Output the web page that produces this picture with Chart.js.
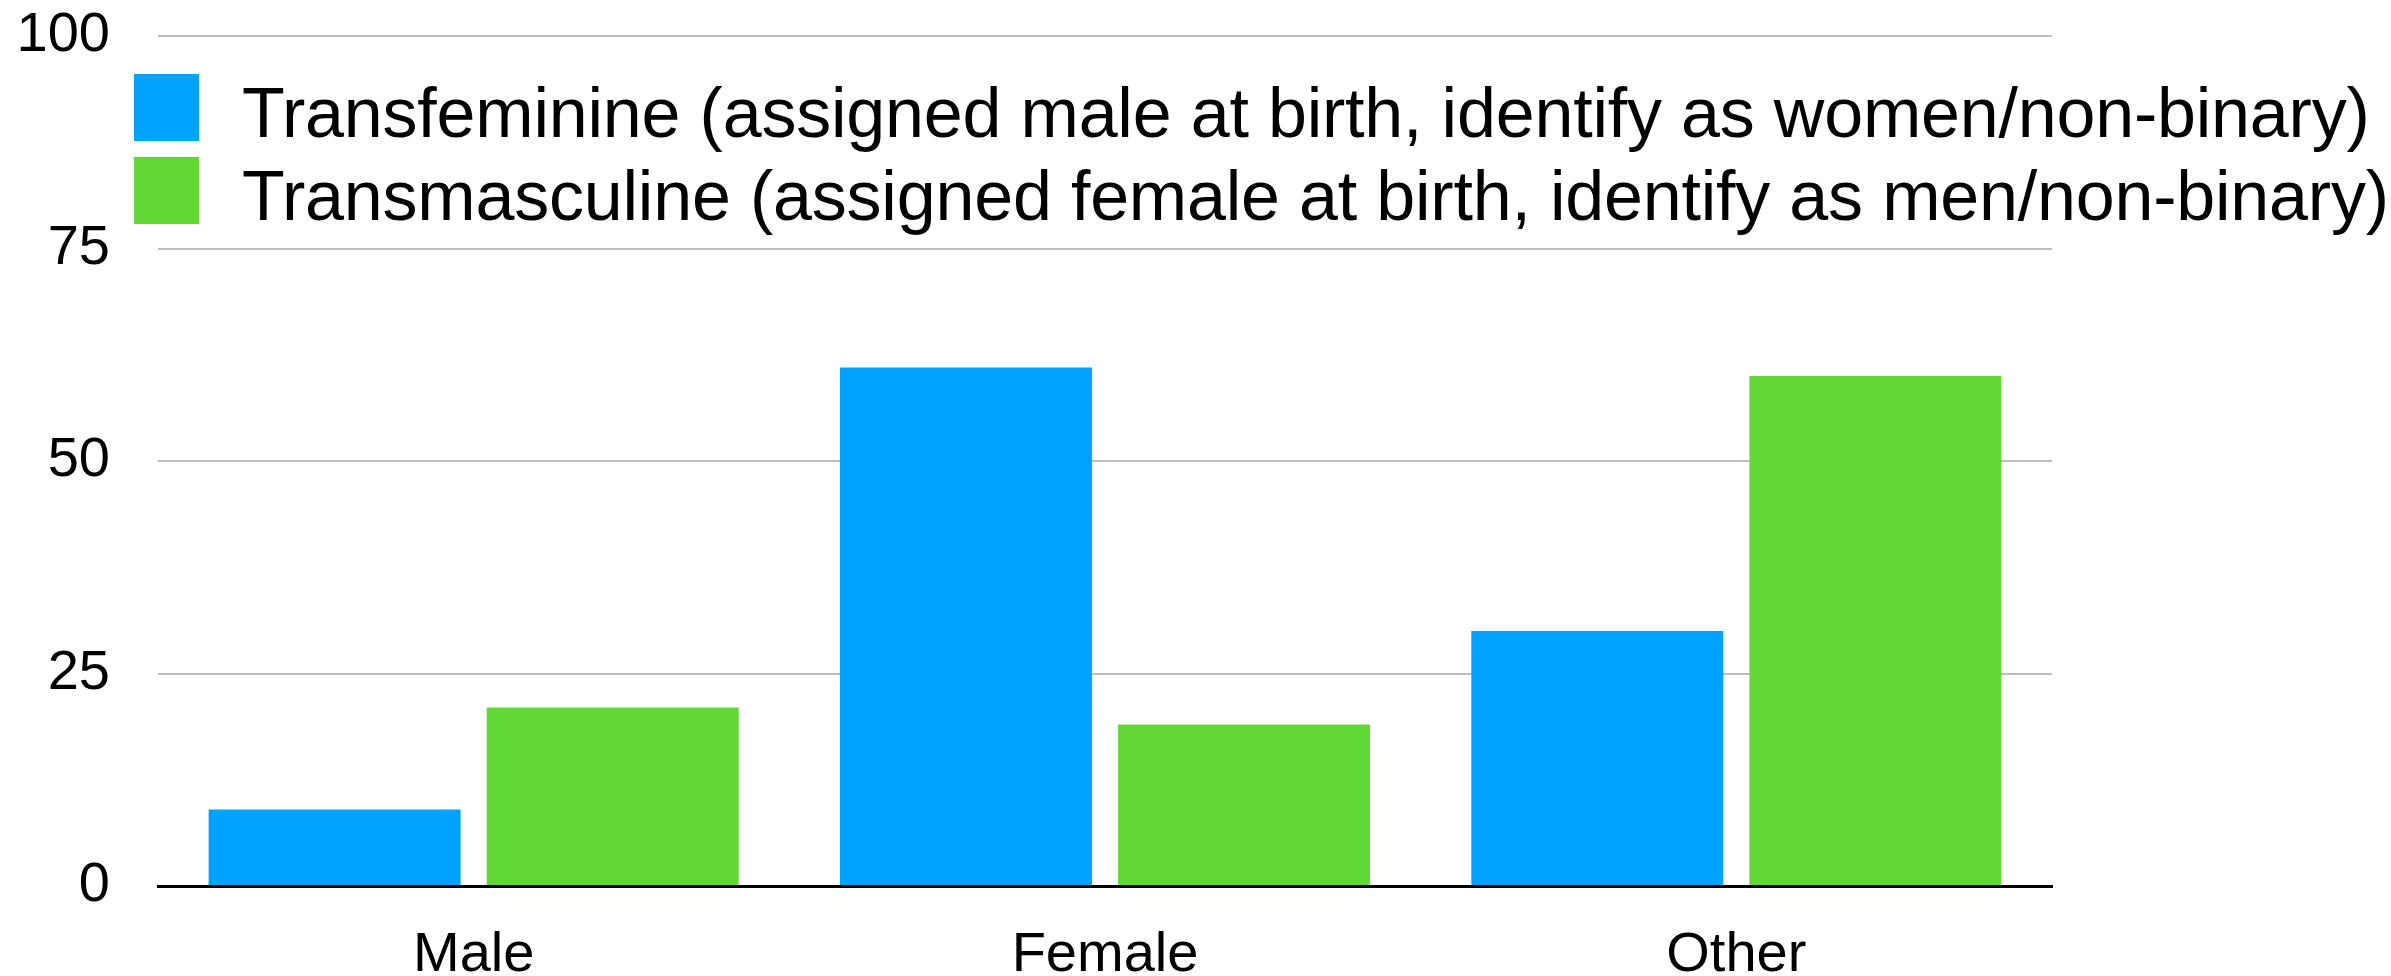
<!DOCTYPE html>
<html>
<head>
<meta charset="utf-8">
<style>
  html, body { margin: 0; padding: 0; background: #fff; }
  #wrap { width: 2391px; height: 976px; }
</style>
<script src="https://cdn.jsdelivr.net/npm/chart.js@4/dist/chart.umd.min.js"></script>
</head>
<body>
<div id="wrap"><canvas id="chart" width="2391" height="976"></canvas></div>
<script>
const categories = ['Male', 'Female', 'Other'];
const seriesLabels = [
    'Transfeminine (assigned male at birth, identify as women/non-binary)',
    'Transmasculine (assigned female at birth, identify as men/non-binary)'
];
const transfeminine = [9, 61, 30];
const transmasculine = [21, 19, 60];
const yTicks = [0, 25, 50, 75, 100];

const FONT = '"Liberation Sans", Arial, Helvetica, sans-serif';
const colors = ['#00A2FF', '#61D836'];

// legend sits inside the plot, between the 100 and 75 gridlines
const insideLegend = {
    id: 'insideLegend',
    afterDraw(chart) {
        const ctx = chart.ctx;
        ctx.save();
        ctx.font = '70px ' + FONT;
        ctx.letterSpacing = '-0.2px';
        ctx.textBaseline = 'alphabetic';
        chart.data.datasets.forEach((ds, i) => {
            const top = 74 + i * 83;
            ctx.fillStyle = ds.backgroundColor;
            ctx.fillRect(134, top, 65, 67);
            ctx.fillStyle = '#000';
            ctx.fillText(ds.label, 242, top + 63);
        });
        ctx.restore();
    }
};

new Chart(document.getElementById('chart').getContext('2d'), {
    type: 'bar',
    data: {
        labels: categories,
        datasets: [
            { label: seriesLabels[0], data: transfeminine, backgroundColor: colors[0] },
            { label: seriesLabels[1], data: transmasculine, backgroundColor: colors[1] }
        ]
    },
    options: {
        responsive: false,
        animation: false,
        devicePixelRatio: 1,
        layout: { padding: { top: 36, right: 339, left: 0, bottom: 0 } },
        datasets: {
            bar: { categoryPercentage: 0.881, barPercentage: 0.906, borderWidth: 0 }
        },
        plugins: {
            legend: { display: false },
            tooltip: { enabled: false }
        },
        scales: {
            x: {
                grid: { display: false, drawTicks: false },
                border: { display: true, color: '#000', width: 3 },
                ticks: { color: '#000', font: { family: FONT, size: 56 }, padding: 36 },
                afterFit(axis) { axis.height = 90; }
            },
            y: {
                min: 0,
                max: 100,
                afterBuildTicks(axis) { axis.ticks = yTicks.map(v => ({ value: v })); },
                grid: {
                    drawTicks: true,
                    tickLength: 48,
                    tickColor: 'rgba(0,0,0,0)',
                    color: ctx => ctx.tick && ctx.tick.value === 0 ? 'rgba(0,0,0,0)' : '#bdbdbd',
                    lineWidth: 2
                },
                border: { display: false },
                ticks: { color: '#000', font: { family: FONT, size: 56 }, padding: 0 },
                afterFit(axis) { axis.width = 158; }
            }
        }
    },
    plugins: [insideLegend]
});
</script>
</body>
</html>
